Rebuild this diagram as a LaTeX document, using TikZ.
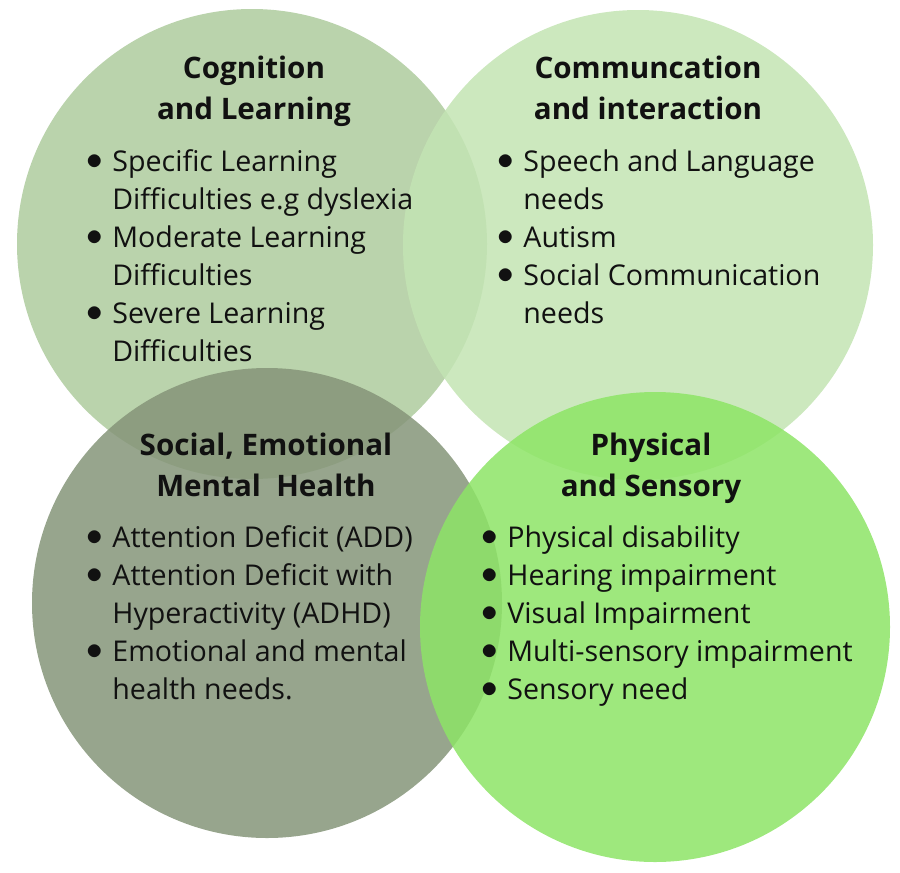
\documentclass[tikz,border=0pt]{standalone}
\usepackage{fontspec}
\setmainfont{Open Sans}
\usetikzlibrary{positioning}
\definecolor{cogcol}{RGB}{174,203,157}
\definecolor{comcol}{RGB}{195,228,179}
\definecolor{semcol}{RGB}{133,149,121}
\definecolor{phycol}{RGB}{141,228,102}
\definecolor{inkcol}{RGB}{17,17,17}
\newcommand{\dotmark}{\raisebox{0.6pt}{\scalebox{1.15}{$\bullet$}}}

\begin{document}
\begin{tikzpicture}[x=0.5pt,y=-0.5pt,
    needarea/.style={circle,minimum size=235pt,inner sep=0pt,fill opacity=0.85},
    headtext/.style={anchor=north,inner sep=0pt,text=inkcol,font=\bfseries\fontsize{14.8pt}{20.5pt}\selectfont},
    itemtext/.style={anchor=north west,inner sep=0pt,text=inkcol,font=\fontsize{14.3pt}{19pt}\selectfont}]
    \useasboundingbox (0,0) rectangle (900,873);

    % the four areas
    \node[needarea,fill=cogcol] (cog) at (252,244) {};
    \node[needarea,fill=comcol] (com) at (638,245) {};
    \node[needarea,fill=semcol] (sem) at (267,603) {};
    \node[needarea,fill=phycol] (phy) at (655,627) {};

    % headings
    \node[headtext] (cogt) at (254,49) {\begin{tabular}{@{}c@{}}Cognition\\and Learning\end{tabular}};
    \node[headtext] (comt) at (648,49) {\begin{tabular}{@{}c@{}}Communcation\\and interaction\end{tabular}};
    \node[headtext] (semt) at (266,426) {\begin{tabular}{@{}c@{}}Social, Emotional\\Mental~~Health\end{tabular}};
    \node[headtext] (phyt) at (651,426) {\begin{tabular}{@{}c@{}}Physical\\and Sensory\end{tabular}};

    % lists
    \node[itemtext] (cogl) at (86,144) {\begin{tabular}{@{}p{13pt}@{}l@{}}
        \dotmark & Specific Learning\\
        & Difficulties e.g dyslexia\\
        \dotmark & Moderate Learning\\
        & Difficulties\\
        \dotmark & Severe Learning\\
        & Difficulties
    \end{tabular}};
    \node[itemtext] (coml) at (497,144) {\begin{tabular}{@{}p{13pt}@{}l@{}}
        \dotmark & Speech and Language\\
        & needs\\
        \dotmark & Autism\\
        \dotmark & Social Communication\\
        & needs
    \end{tabular}};
    \node[itemtext] (seml) at (86,520) {\begin{tabular}{@{}p{13pt}@{}l@{}}
        \dotmark & Attention Deficit (ADD)\\
        \dotmark & Attention Deficit with\\
        & Hyperactivity (ADHD)\\
        \dotmark & Emotional and mental\\
        & health needs.
    \end{tabular}};
    \node[itemtext] (phyl) at (481,520) {\begin{tabular}{@{}p{13pt}@{}l@{}}
        \dotmark & Physical disability\\
        \dotmark & Hearing impairment\\
        \dotmark & Visual Impairment\\
        \dotmark & Multi-sensory impairment\\
        \dotmark & Sensory need
    \end{tabular}};
\end{tikzpicture}
\end{document}
